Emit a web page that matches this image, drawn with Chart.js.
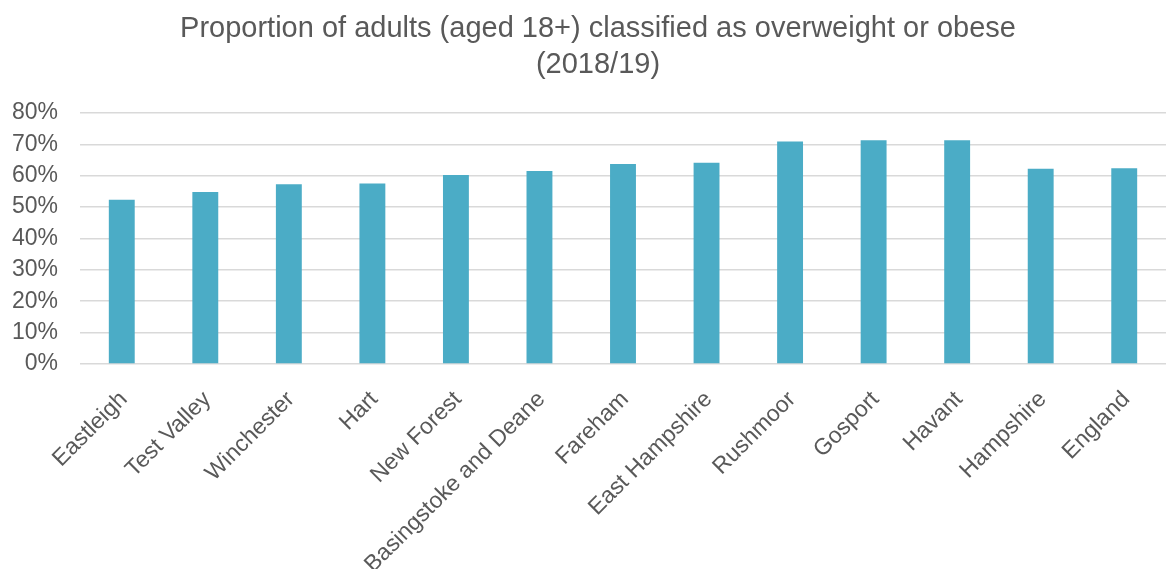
<!DOCTYPE html>
<html>
<head>
<meta charset="utf-8">
<script src="https://cdn.jsdelivr.net/npm/chart.js@4"></script>
<style>
  body { margin: 0; background: #fff; }
  #wrap { width: 1166px; height: 569px; overflow: hidden; }
</style>
</head>
<body>
<div id="wrap"><canvas id="chart" width="1166" height="569"></canvas></div>
<script>
// data
const areas = ["Eastleigh", "Test Valley", "Winchester", "Hart", "New Forest", "Basingstoke and Deane",
  "Fareham", "East Hampshire", "Rushmoor", "Gosport", "Havant", "Hampshire", "England"];
const overweightPct = [52.3, 54.8, 57.3, 57.5, 60.2, 61.5, 63.7, 64.1, 70.9, 71.3, 71.3, 62.2, 62.4];
const yTicks = [0, 10, 20, 30, 40, 50, 60, 70, 80];

const FONT = "'Liberation Sans', Arial, sans-serif";
const GREY = "#595959";

// title sits a little right of the canvas centre in the original
const nudgeTitle = {
  id: 'nudgeTitle',
  afterLayout(chart) {
    if (chart.titleBlock) chart.titleBlock.left += 24;
  }
};

const ctx = document.getElementById('chart').getContext('2d');
new Chart(ctx, {
  type: 'bar',
  data: {
    labels: areas,
    datasets: [{
      data: overweightPct,
      backgroundColor: '#4bacc6',
      borderWidth: 0,
      categoryPercentage: 1,
      barPercentage: 0.31
    }]
  },
  options: {
    responsive: false,
    animation: false,
    layout: { padding: { left: 0, right: -6, top: 0, bottom: 0 } },
    plugins: {
      legend: { display: false },
      tooltip: { enabled: false },
      title: {
        display: true,
        text: ["Proportion of adults (aged 18+) classified as overweight or obese", "(2018/19)"],
        color: GREY,
        font: { family: FONT, size: 29, weight: 'normal', lineHeight: 1.24 },
        padding: { top: 11, bottom: 30 }
      }
    },
    scales: {
      x: {
        grid: { display: false },
        border: { display: false },
        ticks: {
          color: GREY,
          font: { family: FONT, size: 23 },
          maxRotation: 45,
          minRotation: 45,
          autoSkip: false,
          padding: 14,
          labelOffset: 2
        },
        afterFit: s => { s.height = 205; }
      },
      y: {
        min: 0,
        max: 80,
        afterBuildTicks: s => { s.ticks = yTicks.map(v => ({ value: v })); },
        grid: { color: '#d9d9d9', lineWidth: 1.5, drawTicks: false },
        border: { display: false },
        ticks: {
          color: GREY,
          font: { family: FONT, size: 23 },
          padding: 22,
          callback: v => v + '%'
        },
        afterFit: s => { s.width = 80; }
      }
    }
  },
  plugins: [nudgeTitle]
});
</script>
</body>
</html>
